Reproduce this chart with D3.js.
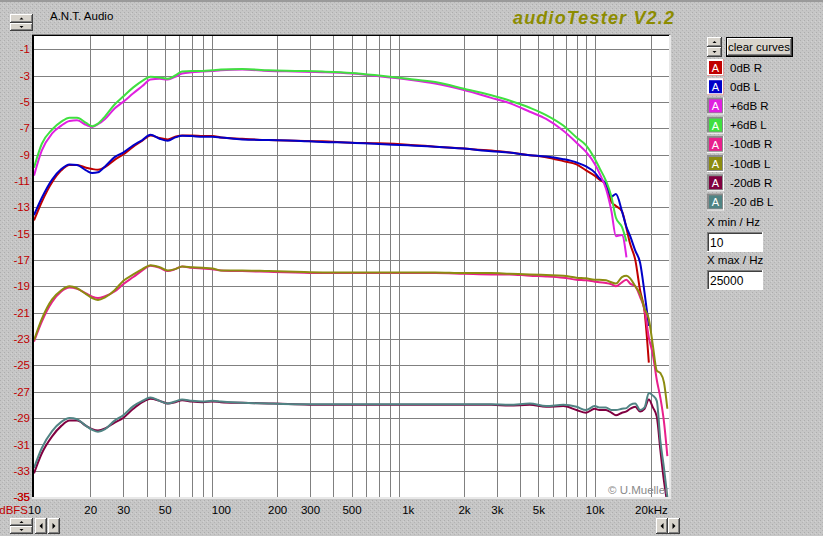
<!DOCTYPE html>
<html>
<head>
<meta charset="utf-8">
<script src="https://cdn.jsdelivr.net/npm/d3@7"></script>
<style>
  body { margin: 0; background: #c4c4c4; }
  svg { display: block; font-family: Arial, "Liberation Sans", sans-serif; }
</style>
</head>
<body>
<svg width="823" height="536"></svg>
<script>
//Measurement frequencies (Hz), shared by all curves
const freqs = [10, 11, 12.5, 14, 15.5, 17, 19, 20.5, 22, 24, 27, 30, 34, 38, 42, 47, 52, 57, 62, 70, 80, 90,
    100, 130, 180, 250, 350, 500, 700, 1000, 1400, 2000, 2800, 3500, 4500, 5500, 6800, 8000, 9000,
    10000, 10600, 11500, 12300, 13000, 14000, 14800, 15500, 16500, 17500, 18500, 19500, 20500, 21500, 22500, 23500, 24500];

//Levels in dBFS (null = curve ended)
const r0dB = [-14.0, -12.6, -11.1, -10.2, -9.8, -9.8, -10.0, -10.1, -10.15, -9.95, -9.4, -9.0, -8.4, -7.95, -7.55, -7.75, -7.85, -7.65, -7.55, -7.55, -7.6, -7.6,
    -7.7, -7.8, -7.9, -7.95, -8.0, -8.1, -8.15, -8.25, -8.4, -8.55, -8.7, -8.85, -9.05, -9.2, -9.5, -9.75, -10.2,
    -10.6, -10.9, -11.3, -12.6, -12.9, -13.3, -14.6, -15.8, -17.0, -19.3, -20.9, -24.8, null, null, null, null, null];
const l0dB = [-13.6, -12.3, -10.9, -10.1, -9.75, -9.8, -10.2, -10.4, -10.35, -9.9, -9.2, -8.85, -8.3, -7.9, -7.5, -7.8, -7.95, -7.7, -7.57, -7.6, -7.65, -7.65,
    -7.7, -7.85, -7.9, -7.95, -8.05, -8.1, -8.2, -8.3, -8.4, -8.55, -8.75, -8.85, -9.05, -9.15, -9.35, -9.6, -9.9,
    -10.35, -10.8, -11.2, -12.2, -12.0, -13.3, -14.5, -15.2, -16.3, -17.2, -19.5, -22.0, null, null, null, null, null];
const r6dB = [-10.6, -8.7, -7.4, -6.8, -6.45, -6.4, -6.75, -6.9, -6.7, -6.3, -5.5, -5.0, -4.35, -3.8, -3.3, -3.25, -3.3, -3.1, -2.85, -2.75, -2.7, -2.65,
    -2.6, -2.55, -2.65, -2.7, -2.75, -2.85, -3.05, -3.3, -3.6, -4.1, -4.7, -5.1, -5.75, -6.3, -7.2, -8.1, -8.8,
    -9.7, -10.4, -11.6, -13.3, -15.2, -15.1, -16.8, null, null, null, null, null, null, null, null, null, null];
const l6dB = [-10.0, -8.2, -7.1, -6.5, -6.2, -6.2, -6.6, -6.85, -6.65, -6.1, -5.2, -4.6, -3.9, -3.4, -3.1, -3.15, -3.25, -3.0, -2.7, -2.65, -2.65, -2.6,
    -2.55, -2.5, -2.6, -2.65, -2.7, -2.8, -3.0, -3.25, -3.5, -4.0, -4.5, -4.9, -5.45, -6.0, -6.8, -7.7, -8.3,
    -9.3, -10.0, -11.0, -12.2, -13.8, -14.5, -15.6, null, null, null, null, null, null, null, null, null, null];
const rMinus10dB = [-23.2, -21.7, -20.2, -19.4, -19.1, -19.2, -19.55, -19.8, -19.9, -19.75, -19.4, -18.85, -18.3, -17.8, -17.45, -17.6, -17.85, -17.7, -17.5, -17.6, -17.65, -17.7,
    -17.8, -17.85, -17.9, -17.95, -18.0, -18.0, -18.0, -18.0, -18.0, -18.05, -18.1, -18.1, -18.2, -18.25, -18.35, -18.5, -18.55,
    -18.65, -18.7, -18.75, -18.85, -19.0, -18.7, -18.5, -18.8, -19.0, -19.8, -20.8, -22.9, -24.2, -26.1, -27.5, -29.3, -31.9];
const lMinus10dB = [-23.1, -21.5, -20.0, -19.3, -19.0, -19.15, -19.6, -19.9, -20.05, -19.85, -19.3, -18.6, -18.1, -17.7, -17.4, -17.55, -17.8, -17.7, -17.5, -17.55, -17.6, -17.65,
    -17.8, -17.8, -17.85, -17.9, -17.95, -17.95, -17.95, -17.95, -17.95, -18.0, -18.0, -18.05, -18.1, -18.15, -18.2, -18.35, -18.4,
    -18.5, -18.5, -18.55, -18.7, -18.8, -18.3, -18.2, -18.4, -19.0, -19.6, -20.7, -21.5, -23.5, -25.4, -25.6, -26.3, -28.3];
const rMinus20dB = [-33.2, -31.7, -30.4, -29.6, -29.2, -29.2, -29.6, -29.85, -29.95, -29.8, -29.35, -29.0, -28.3, -27.8, -27.55, -27.7, -27.9, -27.8, -27.65, -27.75, -27.8, -27.75,
    -27.8, -27.85, -27.9, -27.95, -28.0, -28.0, -28.0, -28.0, -28.0, -28.0, -28.0, -28.05, -28.0, -28.15, -28.1, -28.4, -28.6,
    -28.3, -28.4, -28.4, -28.6, -28.8, -28.6, -28.5, -28.3, -28.15, -28.5, -28.3, -27.6, -28.2, -28.9, -31.5, -33.8, -35.5];
const lMinus20dB = [-32.8, -31.3, -30.0, -29.3, -29.0, -29.1, -29.6, -29.9, -30.05, -29.85, -29.2, -28.8, -28.1, -27.7, -27.45, -27.7, -27.9, -27.75, -27.6, -27.7, -27.75, -27.7,
    -27.75, -27.85, -27.9, -27.95, -27.95, -27.95, -27.95, -27.95, -27.95, -27.95, -27.95, -28.0, -27.9, -28.1, -28.0, -28.15, -28.4,
    -28.1, -28.2, -28.2, -28.4, -28.4, -28.3, -28.25, -28.0, -27.9, -28.4, -28.2, -27.1, -27.3, -27.7, -30.8, -32.8, -35.0];

const seriesNames = ['0dB R', '0dB L', '+6dB R', '+6dB L', '-10dB R', '-10dB L', '-20dB R', '-20 dB L'];
const seriesValues = [r0dB, l0dB, r6dB, l6dB, rMinus10dB, lMinus10dB, rMinus20dB, lMinus20dB];
const seriesColors = ['#c00000', '#0000c8', '#e020e0', '#40e040', '#e8208c', '#8c8c10', '#800040', '#508484'];

//Axis ticks
const yTicks = d3.range(-1, -36, -2);
const xTicks = [10, 20, 30, 50, 100, 200, 300, 500, 1000, 2000, 3000, 5000, 10000, 20000];
const xTickLabels = ['10', '20', '30', '50', '100', '200', '300', '500', '1k', '2k', '3k', '5k', '10k', '20kHz'];

const svg = d3.select('svg');
const plot = { left: 34, top: 36, right: 669, bottom: 497 };

const x = d3.scaleLog().domain([10, 25000]).range([plot.left, plot.right]);
const y = d3.scaleLinear().domain([-35, 0]).range([plot.bottom, plot.top]);

//Textured window background
const defs = svg.append('defs');
const pat = defs.append('pattern').attr('id', 'dots')
    .attr('width', 4).attr('height', 4).attr('patternUnits', 'userSpaceOnUse');
pat.append('rect').attr('width', 4).attr('height', 4).attr('fill', '#c6c6c6');
pat.append('rect').attr('x', 0).attr('y', 0).attr('width', 1).attr('height', 1).attr('fill', '#acacac');
pat.append('rect').attr('x', 2).attr('y', 2).attr('width', 1).attr('height', 1).attr('fill', '#b4b4b4');
pat.append('rect').attr('x', 3).attr('y', 1).attr('width', 1).attr('height', 1).attr('fill', '#d2d2d2');
svg.append('rect').attr('width', 823).attr('height', 536).attr('fill', 'url(#dots)');
svg.append('rect').attr('width', 823).attr('height', 2).attr('fill', '#9a9a9a');

defs.append('clipPath').attr('id', 'plotClip')
    .append('rect')
    .attr('x', plot.left).attr('y', plot.top)
    .attr('width', plot.right - plot.left).attr('height', plot.bottom - plot.top);

//Plot area
svg.append('rect')
    .attr('x', plot.left).attr('y', plot.top)
    .attr('width', plot.right - plot.left).attr('height', plot.bottom - plot.top)
    .attr('fill', '#ffffff');

//Grid lines through d3 axes
const xGrid = [2, 3, 4, 5, 6, 7, 8, 9].flatMap(m => [m * 10, m * 100, m * 1000]).concat([10000, 20000]);

svg.append('g')
    .attr('transform', `translate(0, ${plot.top})`)
    .call(d3.axisBottom(x).tickValues(xGrid).tickSize(plot.bottom - plot.top).tickFormat(''))
    .call(g => g.select('.domain').remove())
    .call(g => g.selectAll('line').attr('stroke', '#808080').attr('shape-rendering', 'crispEdges'));

svg.append('g')
    .attr('transform', `translate(${plot.left}, 0)`)
    .call(d3.axisRight(y).tickValues(yTicks).tickSize(plot.right - plot.left).tickFormat(''))
    .call(g => g.select('.domain').remove())
    .call(g => g.selectAll('line').attr('stroke', '#808080').attr('shape-rendering', 'crispEdges'));

//Frame (sunken look)
svg.append('line').attr('x1', plot.left - 1).attr('x2', plot.left - 1).attr('y1', plot.top - 1).attr('y2', plot.bottom + 1)
    .attr('stroke', '#000').attr('stroke-width', 2);
svg.append('line').attr('x1', plot.left - 2).attr('x2', plot.right + 1).attr('y1', plot.top - 0.5).attr('y2', plot.top - 0.5)
    .attr('stroke', '#000').attr('stroke-width', 1);
svg.append('line').attr('x1', plot.left - 2).attr('x2', plot.right + 1).attr('y1', plot.top - 1.5).attr('y2', plot.top - 1.5)
    .attr('stroke', '#808080').attr('stroke-width', 1);
svg.append('rect').attr('x', plot.right).attr('y', plot.top - 1).attr('width', 2).attr('height', plot.bottom - plot.top + 3)
    .attr('fill', '#e8e8e8');
svg.append('rect').attr('x', plot.left - 2).attr('y', plot.bottom).attr('width', plot.right - plot.left + 4).attr('height', 2)
    .attr('fill', '#e8e8e8');

//Curves
const line = d3.line()
    .x(d => x(d[0]))
    .y(d => y(d[1]))
    .curve(d3.curveMonotoneX);

const curves = svg.append('g').attr('clip-path', 'url(#plotClip)');
seriesValues.forEach((vals, i) => {
    const pts = freqs.map((f, j) => [f, vals[j]]).filter(d => d[1] !== null);
    curves.append('path')
        .attr('d', line(pts))
        .attr('fill', 'none')
        .attr('stroke', seriesColors[i])
        .attr('stroke-width', 2)
        .attr('stroke-linejoin', 'round');
});

//Tick labels
svg.append('g')
    .attr('transform', `translate(${plot.left - 4}, 0)`)
    .call(d3.axisLeft(y).tickValues(yTicks.concat([-35])).tickSize(0).tickPadding(0).tickFormat(d => d))
    .call(g => g.select('.domain').remove())
    .call(g => g.selectAll('text').attr('fill', '#c00000').attr('font-size', 11.5).attr('font-family', 'Arial, "Liberation Sans", sans-serif'));

svg.append('g')
    .attr('transform', `translate(0, ${plot.bottom + 9})`)
    .call(d3.axisBottom(x).tickValues(xTicks).tickSize(0).tickPadding(0).tickFormat((d, i) => xTickLabels[i]))
    .call(g => g.select('.domain').remove())
    .call(g => g.selectAll('text').attr('fill', '#000').attr('font-size', 11.5).attr('font-family', 'Arial, "Liberation Sans", sans-serif'));

svg.append('text').attr('x', 28).attr('y', 514).attr('text-anchor', 'end')
    .attr('fill', '#c00000').attr('font-size', 11.5).text('dBFS');

svg.append('text').attr('x', 608).attr('y', 494)
    .attr('fill', '#8a8a8a').attr('font-size', 11.5).text('\u00a9 U.Mueller');

//Titles
svg.append('text').attr('x', 50).attr('y', 20).attr('font-size', 11.5).attr('fill', '#000').text('A.N.T. Audio');
svg.append('text').attr('x', 513).attr('y', 24)
    .attr('font-size', 18).attr('font-weight', 'bold').attr('font-style', 'italic')
    .attr('fill', '#8c8c00').attr('textLength', 161).text('audioTester V2.2');

//Windows-style controls
const button = (x0, y0, w, h) => {
    const g = svg.append('g');
    g.append('rect').attr('x', x0).attr('y', y0).attr('width', w).attr('height', h).attr('fill', '#404040');
    g.append('rect').attr('x', x0).attr('y', y0).attr('width', w - 1).attr('height', h - 1).attr('fill', '#ffffff');
    g.append('rect').attr('x', x0 + 1).attr('y', y0 + 1).attr('width', w - 2).attr('height', h - 2).attr('fill', '#808080');
    g.append('rect').attr('x', x0 + 1).attr('y', y0 + 1).attr('width', w - 3).attr('height', h - 3).attr('fill', '#d8d4cc');
    return g;
};

const arrow = (cx, cy, dir, size) => {
    const s = size;
    const pts = {
        up: [[cx - s, cy + s / 2], [cx + s, cy + s / 2], [cx, cy - s / 2]],
        down: [[cx - s, cy - s / 2], [cx + s, cy - s / 2], [cx, cy + s / 2]],
        left: [[cx + s / 2, cy - s], [cx + s / 2, cy + s], [cx - s / 2, cy]],
        right: [[cx - s / 2, cy - s], [cx - s / 2, cy + s], [cx + s / 2, cy]]
    }[dir];
    svg.append('path').attr('d', 'M' + pts.join('L') + 'Z').attr('fill', '#000');
};

const spinner = (x0, y0, w, h) => {
    const half = Math.round(h / 2);
    button(x0, y0, w, half);
    button(x0, y0 + half, w, h - half);
    arrow(x0 + w / 2, y0 + half / 2, 'up', 2);
    arrow(x0 + w / 2, y0 + half + (h - half) / 2, 'down', 2);
};

spinner(10, 14, 23, 17);
spinner(10, 518, 23, 16);
button(35, 518, 12, 16); arrow(41, 526, 'left', 3);
button(48, 518, 12, 16); arrow(54, 526, 'right', 3);
button(656, 518, 12, 16); arrow(662, 526, 'left', 3);
button(668, 518, 12, 16); arrow(674, 526, 'right', 3);

//Legend panel
spinner(707, 37, 15, 20);
svg.append('rect').attr('x', 726).attr('y', 37).attr('width', 67).attr('height', 20).attr('fill', '#000');
button(727, 38, 65, 18);
svg.append('text').attr('x', 759).attr('y', 51).attr('text-anchor', 'middle')
    .attr('font-size', 11.5).attr('fill', '#000').text('clear curves');

const legend = svg.append('g');
seriesNames.forEach((name, i) => {
    const ly = 59 + i * 19.2;
    const edge = i < 2 ? '#ffffff' : '#8a8a8a';
    legend.append('rect').attr('x', 707).attr('y', ly).attr('width', 17).attr('height', 17).attr('fill', i < 2 ? '#e0a0a0' : '#ffffff');
    legend.append('rect').attr('x', 707).attr('y', ly).attr('width', 16).attr('height', 16).attr('fill', edge);
    legend.append('rect').attr('x', 709).attr('y', ly + 2).attr('width', 13).attr('height', 13).attr('fill', seriesColors[i]);
    legend.append('text').attr('x', 715.5).attr('y', ly + 13).attr('text-anchor', 'middle')
        .attr('font-size', 11).attr('fill', '#ffffff').text('A');
    legend.append('text').attr('x', 730).attr('y', ly + 12.5)
        .attr('font-size', 11.5).attr('fill', '#000').text(name);
});

//X range inputs
const input = (y0, label, value) => {
    svg.append('text').attr('x', 707).attr('y', y0 - 6).attr('font-size', 11.5).attr('fill', '#000').text(label);
    svg.append('rect').attr('x', 707).attr('y', y0).attr('width', 56).attr('height', 20).attr('fill', '#ffffff');
    svg.append('rect').attr('x', 707).attr('y', y0).attr('width', 55).attr('height', 19).attr('fill', '#808080');
    svg.append('rect').attr('x', 708).attr('y', y0 + 1).attr('width', 54).attr('height', 18).attr('fill', '#404040');
    svg.append('rect').attr('x', 709).attr('y', y0 + 2).attr('width', 53).attr('height', 17).attr('fill', '#ffffff');
    svg.append('text').attr('x', 710).attr('y', y0 + 15).attr('font-size', 12).attr('fill', '#000').text(value);
};
input(232, 'X min / Hz', '10');
input(270, 'X max / Hz', '25000');
</script>
</body>
</html>
